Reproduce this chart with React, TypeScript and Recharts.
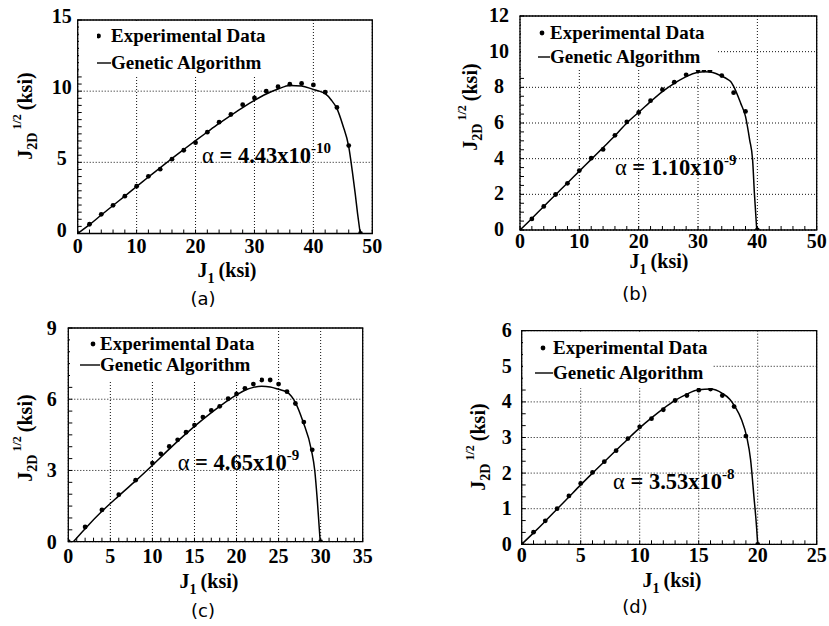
import React from 'react'
import { ComposedChart, Line, Scatter, XAxis, YAxis, CartesianGrid, Legend, ReferenceArea, ReferenceDot } from 'recharts'

const serif = "'Liberation Serif', 'Times New Roman', serif"
const sans = "'DejaVu Sans', Verdana, sans-serif"

// (a) alpha = 4.43e-10
const expAx = [0, 2, 4, 6, 8, 10, 12, 14, 16, 18, 20, 22, 24, 26, 28, 30, 32, 34, 36, 38, 40, 42, 44, 46, 48]
const expAy = [0, 0.65, 1.35, 1.98, 2.62, 3.32, 4.02, 4.52, 5.22, 5.85, 6.38, 7.12, 7.82, 8.36, 9.05, 9.52, 10.0, 10.31, 10.49, 10.54, 10.44, 9.93, 8.86, 6.18, 0]
const gaAx = [0, 2, 4, 6, 8, 10, 12, 14, 16, 18, 20, 22, 24, 26, 28, 30, 32, 34, 36, 38, 40, 41, 42, 43, 44, 45, 46, 46.6, 47.1, 47.5, 47.95]
const gaAy = [0, 0.62, 1.3, 1.97, 2.63, 3.3, 3.97, 4.62, 5.27, 5.9, 6.52, 7.13, 7.73, 8.3, 8.85, 9.35, 9.8, 10.15, 10.4, 10.36, 10.12, 10.0, 9.82, 9.4, 8.77, 7.6, 6.1, 4.4, 2.8, 1.4, 0]

// (b) alpha = 1.10e-9
const expBx = [0, 2, 4, 6, 8, 10, 12, 14, 16, 18, 20, 22, 24, 26, 28, 30, 31, 32, 34, 36, 38, 40]
const expBy = [0, 0.62, 1.32, 1.99, 2.62, 3.33, 4.03, 4.52, 5.31, 6.06, 6.59, 7.25, 7.87, 8.29, 8.7, 8.97, 8.97, 8.95, 8.66, 7.7, 6.65, 0]
const gaBx = [0, 2, 4, 6, 8, 10, 12, 14, 16, 18, 20, 22, 24, 26, 28, 30, 31, 32, 33, 34, 35, 35.5, 36, 37.2, 38, 38.7, 39.2, 39.5, 39.9]
const gaBy = [0, 0.65, 1.32, 1.98, 2.64, 3.3, 3.96, 4.62, 5.28, 6.0, 6.6, 7.2, 7.76, 8.22, 8.6, 8.84, 8.88, 8.86, 8.78, 8.63, 8.45, 8.33, 8.05, 7.1, 6.37, 5.06, 3.93, 2.06, 0]

// (c) alpha = 4.65e-9
const expCx = [0, 2, 4, 6, 8, 10, 11, 12, 13, 14, 15, 16, 17, 18, 19, 20, 21, 22, 23, 24, 25, 26, 27, 28, 29, 30]
const expCy = [0, 0.62, 1.34, 1.98, 2.59, 3.31, 3.7, 4.01, 4.29, 4.61, 4.91, 5.25, 5.53, 5.7, 6.02, 6.22, 6.46, 6.64, 6.81, 6.81, 6.64, 6.32, 5.82, 5.04, 3.87, 0]
const gaCx = [0.6, 2, 4, 6, 8, 10, 12, 14, 16, 18, 20, 21, 22, 23, 24, 25, 26, 27, 27.9, 28.9, 29.3, 29.6, 29.95]
const gaCy = [0, 0.55, 1.28, 1.93, 2.56, 3.22, 3.9, 4.55, 5.15, 5.7, 6.18, 6.38, 6.5, 6.55, 6.52, 6.42, 6.3, 5.86, 5.06, 3.86, 3.0, 1.76, 0]

// (d) alpha = 3.53e-8
const expDx = [0, 1, 2, 3, 4, 5, 6, 7, 8, 9, 10, 11, 12, 13, 14, 15, 16, 17, 18, 19, 20]
const expDy = [0, 0.34, 0.66, 1.0, 1.36, 1.71, 2.02, 2.32, 2.63, 2.97, 3.3, 3.53, 3.78, 4.04, 4.18, 4.33, 4.36, 4.18, 3.87, 3.04, 0]
const gaDx = [0, 1, 2, 3, 4, 5, 6, 7, 8, 9, 10, 11, 12, 13, 14, 15, 16, 17, 17.65, 18.07, 18.64, 19.07, 19.4, 19.68, 19.9, 20]
const gaDy = [0, 0.32, 0.65, 0.99, 1.33, 1.67, 2.0, 2.32, 2.64, 2.96, 3.27, 3.55, 3.81, 4.04, 4.22, 4.34, 4.36, 4.24, 4.07, 3.87, 3.49, 3.02, 2.37, 1.34, 0.5, 0]

const ticksX50 = [0, 10, 20, 30, 40, 50]
const ticksX35 = [0, 5, 10, 15, 20, 25, 30, 35]
const ticksX25 = [0, 5, 10, 15, 20, 25]
const ticksYa = [0, 5, 10, 15]
const ticksYb = [0, 2, 4, 6, 8, 10, 12]
const ticksYc = [0, 3, 6, 9]
const ticksYd = [0, 1, 2, 3, 4, 5, 6]

type Pt = { x: number; y: number }
const zip = (xs: number[], ys: number[]): Pt[] => xs.map((x, i) => ({ x, y: ys[i] }))
// minor tick positions along the frame
const steps = (max: number, step: number) => {
  const out: number[] = []
  for (let i = 0; i * step <= max + 1e-9; i++) out.push(+(i * step).toFixed(4))
  return out
}

interface Panel {
  caption: string
  exp: Pt[]
  ga: Pt[]
  xTicks: number[]
  yTicks: number[]
  xMinor: number
  yMinor: number
  alphaMant: string
  alphaExp: string
  alphaAt: [number, number]
  chart: { left: number; top: number; w: number; h: number }
  plot: { left: number; top: number; right: number; bottom: number }
  yTickOff: number
  yTickDy: number
  xTickDy: number
  yLabel: [number, number]
  xLabel: [number, number]
  cap: [number, number]
  legendBox: { left: number; top: number; right: number; bottom: number }
  legendLine: [number, number, number] // line start, text start, dot x
  legendRows: [number, number]
}

const panels: Panel[] = [
  {
    caption: '(a)', exp: zip(expAx, expAy), ga: zip(gaAx, gaAy), xTicks: ticksX50, yTicks: ticksYa,
    xMinor: 2, yMinor: 0.5,
    alphaMant: '4.43x10', alphaExp: '-10', alphaAt: [21.1, 5.46],
    chart: { left: 0, top: 0, w: 410, h: 310 },
    plot: { left: 77.7, top: 20, right: 372.3, bottom: 233.5 },
    yTickOff: 16, yTickDy: 3, xTickDy: 19,
    yLabel: [25, 116], xLabel: [227, 271], cap: [203, 299],
    legendBox: { left: 79, top: 21, right: 268, bottom: 76 },
    legendLine: [97, 111, 98.5], legendRows: [36, 63],
  },
  {
    caption: '(b)', exp: zip(expBx, expBy), ga: zip(gaBx, gaBy), xTicks: ticksX50, yTicks: ticksYb,
    xMinor: 2, yMinor: 0.5,
    alphaMant: '1.10x10', alphaExp: '-9', alphaAt: [16.0, 3.48],
    chart: { left: 415, top: 0, w: 414, h: 310 },
    plot: { left: 520, top: 16, right: 816.7, bottom: 230 },
    yTickOff: 21, yTickDy: 6, xTickDy: 18,
    yLabel: [470, 107], xLabel: [659, 262], cap: [635, 294],
    legendBox: { left: 521, top: 17, right: 717, bottom: 70 },
    legendLine: [538, 550, 542], legendRows: [33, 57],
  },
  {
    caption: '(c)', exp: zip(expCx, expCy), ga: zip(gaCx, gaCy), xTicks: ticksX35, yTicks: ticksYc,
    xMinor: 1, yMinor: 0.5,
    alphaMant: '4.65x10', alphaExp: '-9', alphaAt: [13.0, 3.32],
    chart: { left: 0, top: 310, w: 410, h: 316 },
    plot: { left: 68.3, top: 328, right: 362.7, bottom: 541.7 },
    yTickOff: 16.6, yTickDy: 7, xTickDy: 21.5,
    yLabel: [25, 438], xLabel: [209, 582], cap: [203, 611],
    legendBox: { left: 69.5, top: 329, right: 260, bottom: 380 },
    legendLine: [80, 100, 93], legendRows: [344, 365],
  },
  {
    caption: '(d)', exp: zip(expDx, expDy), ga: zip(gaDx, gaDy), xTicks: ticksX25, yTicks: ticksYd,
    xMinor: 1, yMinor: 1 / 3,
    alphaMant: '3.53x10', alphaExp: '-8', alphaAt: [7.74, 1.75],
    chart: { left: 415, top: 310, w: 414, h: 316 },
    plot: { left: 521.7, top: 330.7, right: 816.7, bottom: 544.3 },
    yTickOff: 15, yTickDy: 6.5, xTickDy: 18,
    yLabel: [478, 447], xLabel: [672, 581], cap: [635, 607],
    legendBox: { left: 523, top: 332, right: 713, bottom: 388 },
    legendLine: [535, 553, 543], legendRows: [348, 373],
  },
]

const XH = 40
const TICK = -4 // inward minor ticks

function LegendBox({ p }: { p: Panel }) {
  const b = p.legendBox
  const [ls, ts, dx] = p.legendLine
  const rowH = 24
  const row = (cy: number, kind: 'dot' | 'line', text: string) => (
    <div key={text} style={{ position: 'absolute', left: ls - b.left, top: cy - b.top - rowH / 2, height: rowH, display: 'flex', alignItems: 'center', whiteSpace: 'nowrap' }}>
      <svg width={ts - ls} height={rowH} style={{ display: 'block' }}>
        {kind === 'dot'
          ? <circle cx={dx - ls} cy={rowH / 2} r={2.4} fill="#000" />
          : <line x1={0} x2={ts - ls} y1={rowH / 2} y2={rowH / 2} stroke="#000" strokeWidth={1.4} />}
      </svg>
      <span style={{ fontFamily: serif, fontWeight: 'bold', fontSize: 19, lineHeight: rowH + 'px', color: '#000' }}>{text}</span>
    </div>
  )
  return (
    <div style={{ position: 'relative', width: b.right - b.left, height: b.bottom - b.top, background: '#fff' }}>
      {row(p.legendRows[0], 'dot', 'Experimental Data')}
      {row(p.legendRows[1], 'line', 'Genetic Algorithm')}
    </div>
  )
}

function PanelChart({ p }: { p: Panel }) {
  const c = p.chart
  const yw = p.plot.left - c.left
  // the top / right helper axes take 1px each
  const margin = {
    top: p.plot.top - c.top - 1,
    left: 0,
    right: c.w - (p.plot.right - c.left) - 1,
    bottom: c.h - (p.plot.bottom - c.top) - XH,
  }
  const xMax = p.xTicks[p.xTicks.length - 1]
  const yMax = p.yTicks[p.yTicks.length - 1]
  const xAll = steps(xMax, p.xMinor)
  const yAll = steps(yMax, p.yMinor)
  const isMajor = (v: number, majors: number[]) => majors.some(m => Math.abs(m - v) < 1e-6)
  const yl = [p.yLabel[0] - c.left, p.yLabel[1] - c.top]
  const xl = [p.xLabel[0] - c.left, p.xLabel[1] - c.top]
  const cp = [p.cap[0] - c.left, p.cap[1] - c.top]

  const yTick = (t: any) => isMajor(t.payload.value, p.yTicks) ? (
    <text x={t.x + TICK - p.yTickOff} y={t.y + p.yTickDy} textAnchor="middle" fontFamily={serif} fontWeight="bold" fontSize={20} fill="#000">
      {t.payload.value}
    </text>
  ) : <g />
  const xTick = (t: any) => isMajor(t.payload.value, p.xTicks) ? (
    <text x={t.x} y={t.y - TICK + p.xTickDy} textAnchor="middle" fontFamily={serif} fontWeight="bold" fontSize={20} fill="#000">
      {t.payload.value}
    </text>
  ) : <g />
  const xLabel = () => (
    <g>
      <text x={xl[0]} y={xl[1] + 6} textAnchor="middle" fontFamily={serif} fontWeight="bold" fontSize={20} fill="#000">
        J<tspan fontSize={14} dy={6}>1</tspan><tspan dy={-6} dx={4}>(ksi)</tspan>
      </text>
      <text x={cp[0]} y={cp[1] + 6} textAnchor="middle" fontFamily={sans} fontSize={18} fill="#000">{p.caption}</text>
    </g>
  )
  const yLabel = () => (
    <text transform={`rotate(-90 ${yl[0]} ${yl[1]})`} x={yl[0]} y={yl[1] + 7} textAnchor="middle" fontFamily={serif} fontWeight="bold" fontSize={20} fill="#000">
      J<tspan fontSize={14} dy={5}>2D</tspan><tspan fontSize={12} dy={-16} dx={3}>1/2</tspan><tspan dy={11} dx={4}>(ksi)</tspan>
    </text>
  )
  const alphaLabel = (props: any) => {
    const vb = props.viewBox || {}
    const x = (vb.x ?? 0) + (vb.width ?? 0) / 2
    const y = (vb.y ?? 0) + (vb.height ?? 0) / 2
    return (
      <text x={x} y={y + 7} fontFamily={serif} fontWeight="bold" fontSize={22.5} fill="#000">
        <tspan fontWeight="normal">α</tspan> = {p.alphaMant}<tspan fontSize={15} dy={-10}>{p.alphaExp}</tspan>
      </text>
    )
  }
  const tl = { stroke: '#000', strokeWidth: 1 }

  return (
    <div style={{ position: 'absolute', left: c.left, top: c.top }}>
      <ComposedChart width={c.w} height={c.h} margin={margin}>
        <CartesianGrid stroke="#111" strokeDasharray="1 2" strokeWidth={1} verticalValues={p.xTicks} horizontalValues={p.yTicks} />
        <XAxis dataKey="x" type="number" domain={[0, xMax]} ticks={xAll} interval={0} allowDataOverflow
          axisLine={false} tickLine={tl} tickSize={TICK} tickMargin={0} height={XH} tick={xTick} label={xLabel} />
        <XAxis xAxisId="top" orientation="top" type="number" domain={[0, xMax]} ticks={xAll} interval={0}
          axisLine={false} tickLine={tl} tickSize={TICK} height={1} tick={false} />
        <YAxis dataKey="y" type="number" domain={[0, yMax]} ticks={yAll} interval={0} allowDataOverflow
          axisLine={false} tickLine={tl} tickSize={TICK} tickMargin={0} width={yw} tick={yTick} label={yLabel} />
        <YAxis yAxisId="right" orientation="right" type="number" domain={[0, yMax]} ticks={yAll} interval={0}
          axisLine={false} tickLine={tl} tickSize={TICK} width={1} tick={false} />
        <ReferenceArea x1={0} x2={xMax} y1={0} y2={yMax} fill="none" fillOpacity={0} stroke="#000" strokeWidth={1.3} />
        <ReferenceDot x={p.alphaAt[0]} y={p.alphaAt[1]} r={0.5} fill="none" stroke="none" ifOverflow="visible" label={alphaLabel} />
        <Line data={p.ga} dataKey="y" type="monotone" stroke="#000" strokeWidth={1.5} dot={false} activeDot={false} isAnimationActive={false} />
        <Scatter data={p.exp} dataKey="y" fill="#000" isAnimationActive={false}
          shape={(s: any) => <circle cx={s.cx} cy={s.cy} r={2.4} fill="#000" />} />
        <Legend layout="horizontal" verticalAlign="middle" align="center"
          wrapperStyle={{ left: p.legendBox.left - c.left, top: p.legendBox.top - c.top, width: p.legendBox.right - p.legendBox.left, height: p.legendBox.bottom - p.legendBox.top, margin: 0, padding: 0 }}
          content={() => <LegendBox p={p} />} />
      </ComposedChart>
    </div>
  )
}

export default function App() {
  return (
    <div style={{ position: 'absolute', left: 0, top: 0, width: 829, height: 626, background: '#fff', overflow: 'hidden' }}>
      {panels.map(p => <PanelChart key={p.caption} p={p} />)}
    </div>
  )
}
